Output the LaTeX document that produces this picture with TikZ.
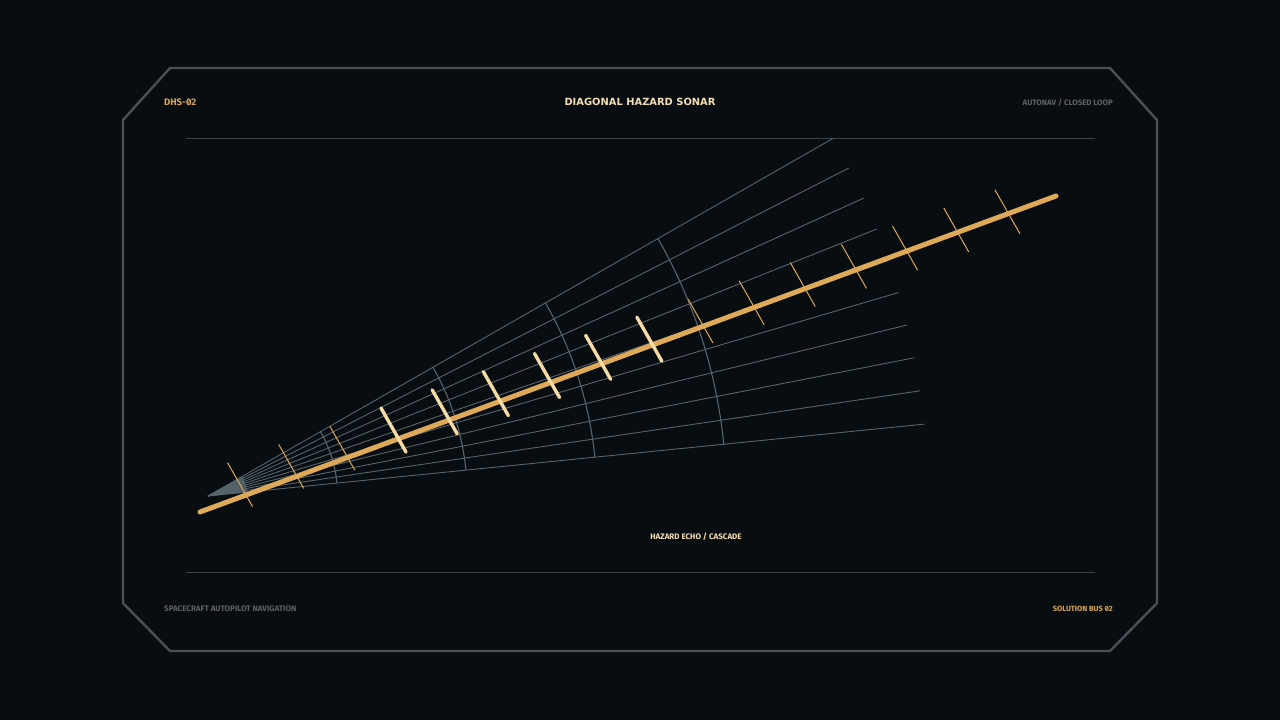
\documentclass[tikz,border=0pt]{standalone}
\usepackage{fontspec}
\setmainfont{Fira Sans}[RawFeature=+zero]
\newfontfamily\titlefont{DejaVu Sans}
\usetikzlibrary{calc}
\definecolor{bgc}{HTML}{080D11}
\definecolor{framec}{HTML}{4A5156}
\definecolor{innerc}{HTML}{3B4347}
\definecolor{rayc}{HTML}{56646C}
\definecolor{goldc}{HTML}{DFA95A}
\definecolor{creamc}{HTML}{F6DBA6}
\definecolor{graytxt}{HTML}{5B6166}
\definecolor{goldtxt}{HTML}{D9A458}
\definecolor{titlec}{HTML}{F4DFB5}
\begin{document}
\begin{tikzpicture}[x=1pt,y=-1pt,
  frame/.style={draw=framec,line width=2.4pt,line join=miter},
  rule/.style={draw=innerc,line width=1pt},
  ray/.style={draw=rayc,line width=0.9pt},
  ring/.style={draw=rayc,line width=1.1pt},
  goldline/.style={draw=goldc,line width=5pt,line cap=round},
  thintick/.style={draw=goldc,line width=1pt},
  thicktick/.style={draw=creamc,line width=3.4pt,line cap=round},
  lbl/.style={inner sep=0pt,font=\bfseries},
]
\fill[bgc] (0,0) rectangle (1280,720);
\useasboundingbox (0,0) rectangle (1280,720);
% frame
\draw[frame] (170,68) -- (1110,68) -- (1157,120) -- (1157,603) -- (1110,651) -- (170,651) -- (123,603) -- (123,120) -- cycle;
\draw[rule] (186,138) -- (1095,138);
\draw[rule] (186,572) -- (1095,572);
% texts
\node[lbl,anchor=west,text=goldtxt,font=\bfseries\fontsize{9.5}{10}\selectfont] (id) at (164,102) {DHS-02};
\node[lbl,text=titlec,font=\titlefont\bfseries\fontsize{9.9}{12}\selectfont] (title) at (640,101.5) {DIAGONAL HAZARD SONAR};
\node[lbl,anchor=east,text=graytxt,font=\bfseries\fontsize{7.9}{9}\selectfont] (mode) at (1113,103) {AUTONAV / CLOSED LOOP};
\node[lbl,anchor=west,text=graytxt,font=\bfseries\fontsize{8}{9}\selectfont] (foot) at (164,609) {SPACECRAFT AUTOPILOT NAVIGATION};
\node[lbl,anchor=east,text=goldtxt,font=\bfseries\fontsize{7.5}{9}\selectfont] (bus) at (1113,609) {SOLUTION BUS 02};
\node[lbl,text=titlec,font=\bfseries\fontsize{8}{9}\selectfont] (echo) at (696,537) {HAZARD ECHO / CASCADE};
% fan
\coordinate (apex) at (208,496);
\fill[rayc,opacity=0.85] (apex) -- ++(-29.78:40) -- ($(apex)+(-5.73:40)$) -- cycle;
\foreach \i in {0,...,9} {
  \pgfmathsetmacro\a{5.73+2.672*\i}
  \draw[ray] (apex) -- ++(-\a:720);
}
\foreach \r in {129.6,259.2,388.8,518.4} {
  \draw[ring] (apex) ++(-5.73:\r) arc[start angle=-5.73,end angle=-29.78,radius=\r];
}
% main line
\coordinate (ls) at (200,512);
\coordinate (le) at (1056,196);
\draw[goldline] (ls) -- (le);
% ticks
\foreach \i in {0,...,15} {
  \pgfmathsetmacro\d{34+54.3*\i}
  \coordinate (t\i) at ($(apex)+(-19.57:\d)$);
  \ifnum\i<3
    \draw[thintick] ($(t\i)+(-12.5,-22)$) -- ($(t\i)+(12.5,22)$);
  \else\ifnum\i>8
    \draw[thintick] ($(t\i)+(-12.5,-22)$) -- ($(t\i)+(12.5,22)$);
  \else
    \draw[thicktick] ($(t\i)+(-12.5,-22)$) -- ($(t\i)+(12.5,22)$);
  \fi\fi
}
\end{tikzpicture}
\end{document}
